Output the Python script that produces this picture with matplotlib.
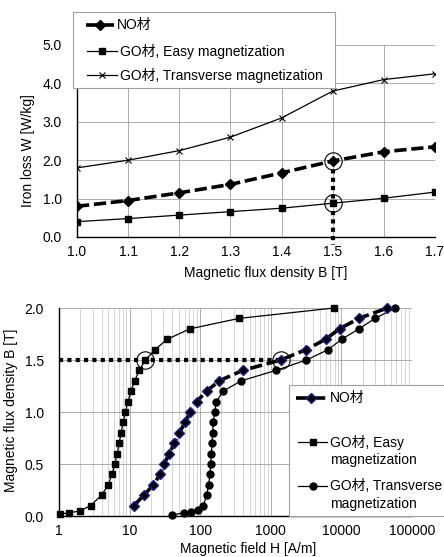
import matplotlib
matplotlib.use("Agg")
import matplotlib.pyplot as plt
from matplotlib.lines import Line2D
from matplotlib.patches import Rectangle
from matplotlib.ticker import FixedLocator, FixedFormatter, LogLocator, NullFormatter

plt.rcParams['font.family'] = ['Liberation Sans', 'Noto Sans CJK JP']
plt.rcParams['font.size'] = 10
FS = 10

# --- iron loss vs flux density (top)
b_top = [1.0, 1.1, 1.2, 1.3, 1.4, 1.5, 1.6, 1.7]
loss_no = [0.80, 0.95, 1.15, 1.37, 1.67, 1.98, 2.22, 2.35]
loss_go_easy = [0.40, 0.48, 0.57, 0.66, 0.75, 0.88, 1.01, 1.17]
loss_go_trans = [1.80, 2.00, 2.25, 2.60, 3.10, 3.80, 4.10, 4.25]
b_mark = 1.5

# --- B-H curves (bottom)
h_no = [11.5, 16, 21.7, 27, 30.7, 36.5, 43, 50.6, 61, 72, 89, 123, 186,
        400, 1380, 3160, 6000, 9400, 17700, 44700]
b_no = [0.1, 0.2, 0.3, 0.4, 0.5, 0.6, 0.7, 0.8, 0.9, 1.0, 1.1, 1.2, 1.3,
        1.4, 1.5, 1.6, 1.7, 1.8, 1.9, 2.0]
h_go_easy = [1.05, 1.4, 2.0, 2.8, 4.0, 5.0, 5.6, 6.2, 6.7, 7.1, 7.6, 8.1, 8.7,
             9.5, 10.4, 11.8, 13.7, 16.7, 22.9, 34.2, 72, 354, 7900]
b_go_easy = [0.02, 0.03, 0.05, 0.1, 0.2, 0.3, 0.4, 0.5, 0.6, 0.7, 0.8, 0.9, 1.0,
             1.1, 1.2, 1.3, 1.4, 1.5, 1.6, 1.7, 1.8, 1.9, 2.0]
h_go_trans = [39.4, 59, 73, 94, 111, 123, 132, 137, 141, 144, 147, 150, 153, 160,
              170, 210, 382, 1180, 3200, 6500, 10100, 17800, 30000, 58000]
b_go_trans = [0.01, 0.03, 0.04, 0.06, 0.1, 0.2, 0.3, 0.4, 0.5, 0.6, 0.7, 0.8, 0.9, 1.0,
              1.1, 1.2, 1.3, 1.4, 1.5, 1.6, 1.7, 1.8, 1.9, 2.0]
h_ticks = [1, 10, 100, 1000, 10000, 100000]
h_tick_labels = ["1", "10", "100", "1000", "10000", "100000"]
h_mark_easy = 16.7
h_mark_no = 1380
h_dotted_end = 1300

W, H = 444, 557
fig = plt.figure(figsize=(W / 100, H / 100), dpi=100)


def fx(x):
    return x / W


def fy(y):
    return 1 - y / H


def style_axes(ax):
    for s in ['top', 'right']:
        ax.spines[s].set_visible(False)
    for s in ['left', 'bottom']:
        ax.spines[s].set_color('black')
        ax.spines[s].set_linewidth(1.0)
    ax.tick_params(length=0, labelsize=FS)
    ax.tick_params(axis='y', pad=11)
    ax.tick_params(axis='x', pad=6)


NO_LINE = dict(color='black', lw=2.6, ls=(0, (3.4, 1.3)))

# ---------- top chart
ax1 = fig.add_axes([fx(77), fy(237), fx(435 - 77), (237 - 45) / H])
style_axes(ax1)
ax1.grid(True, color='#a0a0a0', lw=0.6)
ax1.set_axisbelow(True)
ax1.plot(b_top, loss_no, marker='D', ms=5, mfc='black', mec='black', **NO_LINE)
ax1.plot(b_top, loss_go_easy, color='black', lw=0.9, marker='s', ms=5)
ax1.plot(b_top, loss_go_trans, color='black', lw=0.9, marker='x', ms=5, mew=0.8)
i15 = b_top.index(b_mark)
ax1.plot([b_mark, b_mark], [loss_no[i15], -0.22], color='black', lw=3,
         ls=(0, (1, 1)), clip_on=False)
ax1.plot([b_mark, b_mark], [loss_no[i15], loss_go_easy[i15]], ls='none',
         marker='o', ms=12.5, mfc='none', mec='black', mew=0.8)
ax1.set_xlim(1.0, 1.7)
ax1.set_ylim(0, 5)
ax1.set_xticks(b_top)
ax1.set_xticklabels([f"{v:.1f}" for v in b_top])
ax1.set_yticks([0, 1, 2, 3, 4, 5])
ax1.set_yticklabels([f"{v:.1f}" for v in [0, 1, 2, 3, 4, 5]])
ax1.set_xlabel("Magnetic flux density B [T]", fontsize=FS)
ax1.xaxis.set_label_coords((266 - 77) / 358, (237 - 266) / 192)
ax1.set_ylabel("Iron loss W [W/kg]", fontsize=FS)
ax1.yaxis.set_label_coords((35 - 77) / 358, (237 - 151) / 192)

# ---------- bottom chart
ax2 = fig.add_axes([fx(59), fy(516), fx(412 - 59), (516 - 308) / H])
style_axes(ax2)
ax2.set_xscale('log')
ax2.set_xlim(1, 100000)
ax2.set_ylim(0, 2)
ax2.xaxis.set_major_locator(FixedLocator(h_ticks))
ax2.xaxis.set_major_formatter(FixedFormatter(h_tick_labels))
ax2.xaxis.set_minor_locator(LogLocator(base=10, subs=range(2, 10)))
ax2.xaxis.set_minor_formatter(NullFormatter())
ax2.tick_params(which='minor', length=0)
ax2.grid(True, which='major', color='#a0a0a0', lw=0.6)
ax2.grid(True, which='minor', axis='x', color='#cdcdcd', lw=0.6)
ax2.set_axisbelow(True)
ax2.set_yticks([0, 0.5, 1.0, 1.5, 2.0])
ax2.set_yticklabels(["0.0", "0.5", "1.0", "1.5", "2.0"])
ax2.plot([1, h_dotted_end], [1.5, 1.5], color='black', lw=3, ls=(0, (1, 1)))
ax2.plot(h_go_easy, b_go_easy, color='black', lw=0.9, marker='s', ms=5, clip_on=False)
ax2.plot(h_go_trans, b_go_trans, color='black', lw=0.9, marker='o', ms=5, clip_on=False)
ax2.plot(h_no, b_no, marker='D', ms=5, mfc='black', mec='#1c1c8a', mew=1.0,
         clip_on=False, **NO_LINE)
ax2.plot([h_mark_easy, h_mark_no], [1.5, 1.5], ls='none', marker='o', ms=12.5,
         mfc='none', mec='black', mew=0.8)
ax2.set_xlabel("Magnetic field H [A/m]", fontsize=FS)
ax2.xaxis.set_label_coords((248 - 59) / 353, (516 - 542) / 208)
ax2.set_ylabel("Magnetic flux density B [T]", fontsize=FS)
ax2.yaxis.set_label_coords((18 - 59) / 353, (516 - 410) / 208)


# ---------- hand-placed legends (Excel style)
def legend_box(x0, y0, x1, y1):
    fig.add_artist(Rectangle((fx(x0), fy(y1)), fx(x1 - x0), (y1 - y0) / H,
                             transform=fig.transFigure, facecolor='white',
                             edgecolor='#a0a0a0', lw=0.8, zorder=5))


def legend_entry(x0, x1, y, text, tx, **kw):
    line_kw = {k: v for k, v in kw.items() if k in ('color', 'lw', 'ls')}
    mk_kw = {k: v for k, v in kw.items() if k not in ('lw', 'ls')}
    fig.add_artist(Line2D([fx(x0), fx(x1)], [fy(y), fy(y)], transform=fig.transFigure,
                          zorder=6, **line_kw))
    fig.add_artist(Line2D([fx((x0 + x1) / 2)], [fy(y)], transform=fig.transFigure,
                          ls='none', zorder=7, **mk_kw))
    fig.text(fx(tx), fy(y), text, va='center', ha='left', fontsize=FS, zorder=8)


legend_box(73, 12, 335, 88)
legend_entry(86, 114, 25, "NO材", 117, marker='D', ms=5, mfc='black', mec='black',
             **NO_LINE)
legend_entry(87, 117, 51, "GO材, Easy magnetization", 120, color='black', lw=0.9,
             ls='-', marker='s', ms=5)
legend_entry(87, 117, 75, "GO材, Transverse magnetization", 120, color='black', lw=0.9,
             ls='-', marker='x', ms=5, mew=0.8)

legend_box(289, 385, 460, 516)
legend_entry(296, 326, 398, "NO材", 330, marker='D', ms=5, mfc='black', mec='#1c1c8a',
             mew=1.0, **NO_LINE)
legend_entry(298, 327, 442, "GO材, Easy", 330, color='black', lw=0.9, ls='-',
             marker='s', ms=5)
fig.text(fx(330), fy(460), "magnetization", va='center', ha='left', fontsize=FS, zorder=8)
legend_entry(298, 327, 486, "GO材, Transverse", 330, color='black', lw=0.9, ls='-',
             marker='o', ms=5)
fig.text(fx(330), fy(504), "magnetization", va='center', ha='left', fontsize=FS, zorder=8)

fig.savefig("out.png", dpi=100)
